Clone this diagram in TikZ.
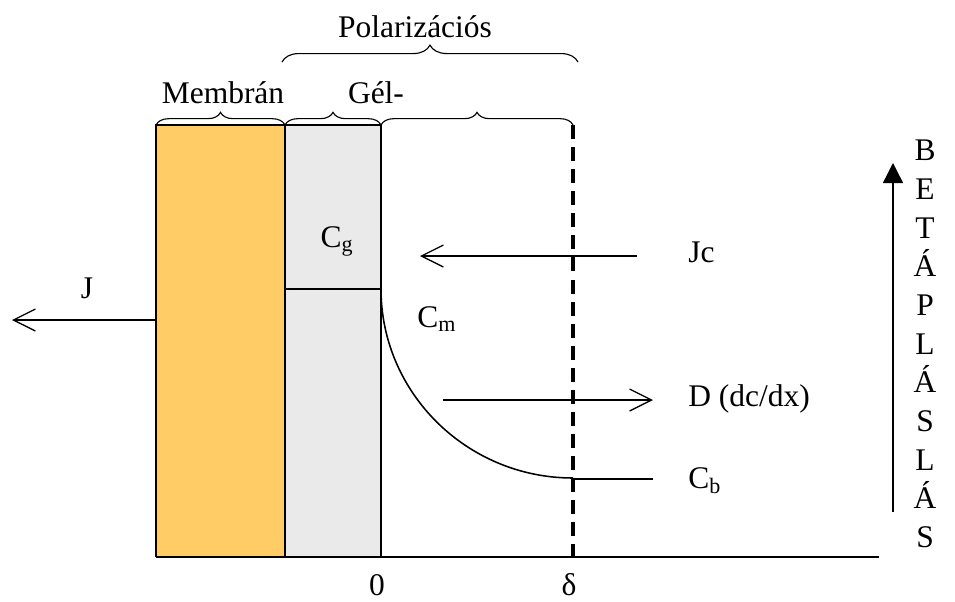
\documentclass[tikz,border=0pt]{standalone}
\usepackage{fontspec}
\setmainfont{Liberation Serif}
\usetikzlibrary{arrows.meta, positioning, decorations.pathreplacing}
\definecolor{membrancolor}{HTML}{FFCC66}
\definecolor{gelcolor}{HTML}{EAEAEA}

\begin{document}
\begin{tikzpicture}[x=0.25mm, y=-0.25mm,
    txt/.style={font=\fontsize{22.4}{27.5}\selectfont, inner sep=0pt},
    flux/.style={line width=0.9pt, -{Straight Barb[length=5.5mm, width=5.5mm]}},
    brc/.style={decorate, line width=0.8pt, decoration={brace, amplitude=#1}}]
    \useasboundingbox (0,0) rectangle (955,601);

    % membrane and gel layer
    \fill[membrancolor] (156,125) rectangle (285,557);
    \fill[gelcolor] (285,125) rectangle (381,557);
    \draw[line width=0.8pt] (156,557) -- (156,125) -- (381,125);
    \draw[line width=0.8pt] (285,125) -- (285,557);
    \draw[line width=1.1pt] (381,125) -- (381,557);
    \draw[line width=1.4pt] (285,289) -- (381,289);
    \draw[line width=1.1pt] (156,557) -- (879,557);

    % edge of the polarization layer
    \draw[line width=2.8pt, dash pattern=on 10pt off 5.7pt] (573,125) -- (573,557);

    % concentration profile
    \draw[line width=1.1pt] (381,289) .. controls (381,393) and (467,478) .. (573,478);
    \draw[line width=1.1pt] (573,479) -- (653,479);

    % braces
    \draw[brc=9pt] (156,125) -- (285,125);
    \draw[brc=9pt] (285,125) -- (381,125);
    \draw[brc=9pt] (381,125) -- (573,125);
    \draw[brc=12pt] (282,62) -- (578,62);

    % labels
    \node[txt, anchor=base] (polar) at (415,37) {Polarizációs};
    \node[txt, anchor=base] (membr) at (223,103) {Membrán};
    \node[txt, anchor=base] (gel) at (376,103) {Gél-};
    \node[txt, anchor=base] (cg) at (337,247) {C\textsubscript{g}};
    \node[txt, anchor=base west] (cm) at (417,327) {C\textsubscript{m}};
    \node[txt, anchor=base west] (jc) at (688,262) {Jc};
    \node[txt, anchor=base west] (diff) at (688,406) {D (dc/dx)};
    \node[txt, anchor=base west] (cb) at (688,488) {C\textsubscript{b}};
    \node[txt] (j) at (87,288) {J};
    \node[txt] (zero) at (377,585) {0};
    \node[txt] (delta) at (569,585) {δ};
    \node[txt, align=center] (feed) at (925,344) {B\\E\\T\\Á\\P\\L\\Á\\S\\L\\Á\\S};

    % fluxes
    \coordinate (jstart) at (156,320);
    \coordinate (jend) at (12,320);
    \coordinate (jcstart) at (637,256);
    \coordinate (jcend) at (420,256);
    \coordinate (dstart) at (443,400);
    \coordinate (dend) at (653,400);
    \coordinate (feedstart) at (893,512);
    \coordinate (feedend) at (893,163);
    \draw[flux] (jstart) -- (jend);
    \draw[flux] (jcstart) -- (jcend);
    \draw[flux] (dstart) -- (dend);
    \draw[line width=1pt, -{Triangle[length=5mm, width=5mm]}] (feedstart) -- (feedend);
\end{tikzpicture}
\end{document}
